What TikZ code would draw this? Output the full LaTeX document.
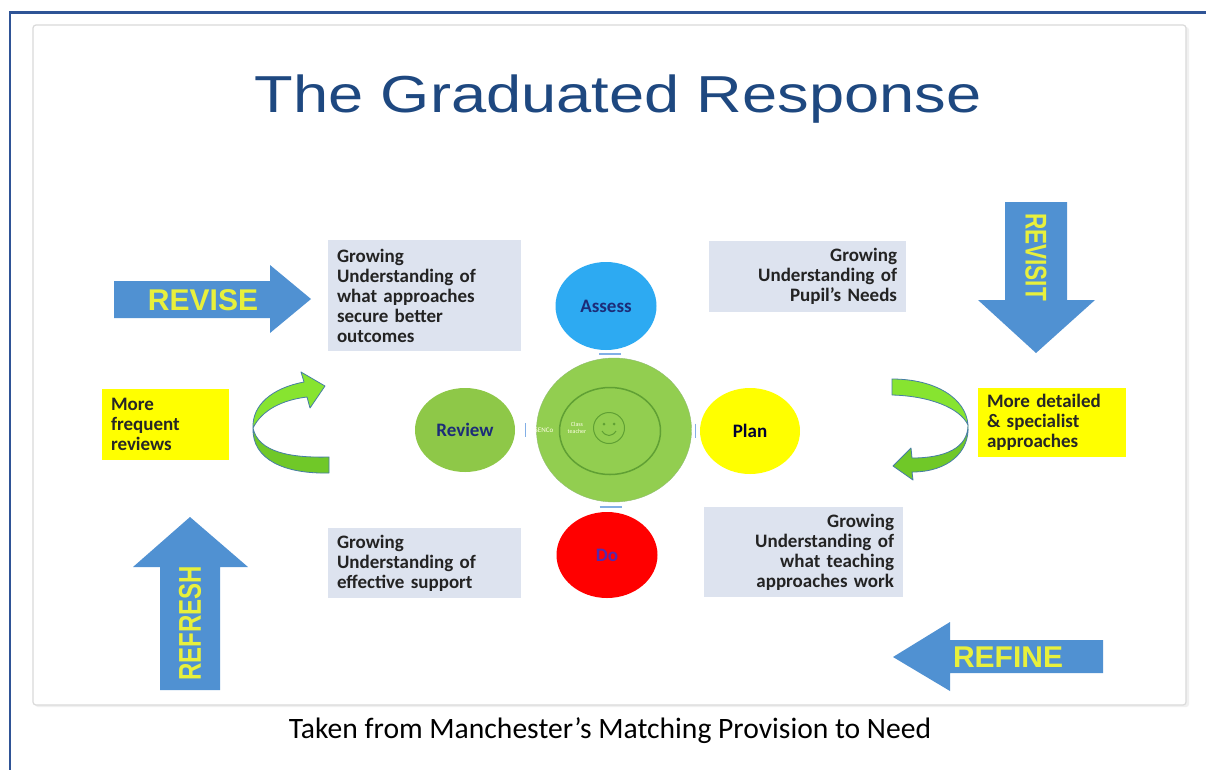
\documentclass[tikz,border=0pt]{standalone}
\usepackage{fontspec}
\setmainfont{Carlito}
\setsansfont{Liberation Sans}
\usetikzlibrary{calc,shapes.geometric}
\definecolor{frameblue}{RGB}{47,84,150}
\definecolor{panelgrey}{RGB}{218,218,218}
\definecolor{titleblue}{RGB}{30,72,128}
\definecolor{boxgrey}{RGB}{221,227,239}
\definecolor{boxtextgrey}{RGB}{35,35,35}
\definecolor{arrowblue}{RGB}{80,145,210}
\definecolor{arrowyellow}{RGB}{232,240,60}
\definecolor{labelyellow}{RGB}{255,255,0}
\definecolor{assessblue}{RGB}{45,170,242}
\definecolor{hubgreen}{RGB}{146,206,80}
\definecolor{ringgreen}{RGB}{96,160,52}
\definecolor{reviewgreen}{RGB}{142,200,72}
\definecolor{dored}{RGB}{255,0,0}
\definecolor{navy}{RGB}{28,44,120}
\definecolor{dopurple}{RGB}{85,40,170}
\definecolor{ribbonlight}{RGB}{135,228,48}
\definecolor{ribbondark}{RGB}{112,200,40}
\definecolor{ribbonedge}{RGB}{70,125,165}
\definecolor{tickblue}{RGB}{130,175,230}
\newcommand{\boxtext}{\fontsize{19}{20}\selectfont\bfseries}
\newcommand{\arrowtext}{\sffamily\bfseries\fontsize{30}{30}\selectfont}
\tikzset{%
    greybox/.style={fill=boxgrey, text=boxtextgrey, inner xsep=9pt, font=\boxtext},
    yellowbox/.style={fill=labelyellow, text=black!85, inner xsep=9pt, font=\boxtext, align=left},
    stage/.style={ellipse, inner sep=0pt, font=\fontsize{19}{19}\selectfont\bfseries},
    arrowlabel/.style={text=arrowyellow, font=\arrowtext, inner sep=0pt},
    blockarrow/.style={fill=arrowblue},
    ribbon/.style={draw=ribbonedge, line width=0.8pt, line join=round},
    tick/.style={draw=tickblue, line width=1.2pt}
}

\begin{document}
\begin{tikzpicture}[x=1pt,y=-1pt]
    \useasboundingbox (0,0) rectangle (1206,769);
    \clip (0,0) rectangle (1206,769);
    \fill[white] (0,0) rectangle (1206,769);
    % outer frame and panel
    \draw[frameblue, line width=2.2pt] (10,12.5) rectangle (1230,800);
    \fill[black!6, rounded corners=3pt] (35,27) rectangle (1189,707);
    \filldraw[fill=white, draw=panelgrey, line width=1.2pt, rounded corners=3pt] (33,25) rectangle (1186,705);

    \node[anchor=base, text=titleblue, font=\sffamily\fontsize{52}{52}\selectfont] (title) at (618,112)
        {\scalebox{1.215}[1]{The Graduated Response}};

    % block arrows
    \fill[blockarrow] (114,281) -- (270,281) -- (270,265) -- (311,299) -- (270,333) -- (270,318) -- (114,318) -- cycle;
    \fill[blockarrow] (1005,202) -- (1067,202) -- (1067,300) -- (1095,300) -- (1036,353) -- (978,300) -- (1005,300) -- cycle;
    \fill[blockarrow] (160,690) -- (160,567) -- (133,567) -- (190,517) -- (248,567) -- (220,567) -- (220,690) -- cycle;
    \fill[blockarrow] (1103,640) -- (950,640) -- (950,622) -- (893,657) -- (950,691) -- (950,673) -- (1103,673) -- cycle;
    \node[arrowlabel] (revise) at (203,300) {REVISE};
    \node[arrowlabel, rotate=-90] (revisit) at (1036,257) {\scalebox{0.75}[1]{REVISIT}};
    \node[arrowlabel, rotate=90] (refresh) at (190,623) {\scalebox{0.8}[1.05]{REFRESH}};
    \node[arrowlabel] (refine) at (1008,657) {REFINE};

    % text boxes
    \node[greybox, minimum width=193pt, minimum height=111pt, text width=175pt, align=left] (approaches) at (424.5,295.5)
        {Growing\\Understanding of\\what approaches\\secure better\\outcomes};
    \node[greybox, minimum width=197pt, minimum height=71pt, text width=179pt, align=right] (needs) at (807.5,276.5)
        {Growing\\Understanding of\\Pupil’s Needs};
    \node[greybox, minimum width=193pt, minimum height=70pt, text width=175pt, align=left] (support) at (424.5,563)
        {Growing\\Understanding of\\effective support};
    \node[greybox, minimum width=199pt, minimum height=90pt, text width=181pt, align=right] (teaching) at (803.5,552)
        {Growing\\Understanding of\\what teaching\\approaches work};
    \node[yellowbox, minimum width=127pt, minimum height=71pt, text width=109pt] (frequent) at (165.5,424.5)
        {More\\frequent\\reviews};
    \node[yellowbox, minimum width=148pt, minimum height=69pt, text width=130pt] (specialist) at (1052,422.5)
        {More detailed\\\& specialist\\approaches};

    % curved arrows
    \filldraw[ribbon, fill=ribbondark] (253,428) .. controls (258,452) and (290,458) .. (329,457)
        -- (329,473) .. controls (285,474) and (252,460) .. (253,428) -- cycle;
    \filldraw[ribbon, fill=ribbonlight] (253,428) .. controls (252,405) and (272,388) .. (304,382)
        -- (301,372) -- (325,386) -- (310,408) -- (307,397)
        .. controls (282,400) and (262,410) .. (253,428) -- cycle;
    \filldraw[ribbon, fill=ribbonlight] (892,379) .. controls (935,379) and (966,398) .. (968,425)
        .. controls (960,408) and (930,396) .. (892,395) -- cycle;
    \filldraw[ribbon, fill=ribbondark] (968,425) .. controls (968,448) and (945,458) .. (912,458)
        -- (911,448) -- (893,466) -- (913,480) -- (912,472)
        .. controls (948,472) and (970,452) .. (968,425) -- cycle;

    % cycle of stages
    \node[stage, fill=hubgreen, draw=ringgreen!70, minimum width=155pt, minimum height=144pt] (hub) at (614,430) {};
    \node[ellipse, draw=ringgreen, line width=1.5pt, minimum width=101pt, minimum height=87pt] (ring) at (610,431) {};
    \node[circle, draw=ringgreen, line width=1pt, minimum size=31pt, inner sep=0pt] (child) at (609,428) {};
    \fill[ringgreen] ($(child)+(-5,-4)$) circle (1.5pt) ($(child)+(5,-4)$) circle (1.5pt);
    \draw[ringgreen, line width=1pt] ($(child)+(-7,3)$) .. controls ($(child)+(-3,9)$) and ($(child)+(3,9)$) .. ($(child)+(7,3)$);
    \node[text=white!90!yellow, font=\fontsize{7}{7}\selectfont] (senco) at (544,430) {SENCo};
    \node[text=white!90!yellow, font=\fontsize{6}{6.5}\selectfont, align=center] (teacher) at (577,428) {Class\\teacher};

    \node[stage, fill=assessblue, text=navy, minimum width=101pt, minimum height=88pt] (assess) at (606,306) {Assess};
    \node[stage, fill=reviewgreen, text=navy, minimum width=100pt, minimum height=84pt] (review) at (465,430) {Review};
    \node[stage, fill=labelyellow, text=black!80!blue, minimum width=100pt, minimum height=86pt] (plan) at (750,431) {Plan};
    \node[stage, fill=dored, text=dopurple, minimum width=101pt, minimum height=86pt] (do) at (607,555) {Do};

    \draw[tick] ($(assess.south)!.5!(hub.north)$) +(-11,0) -- +(11,0);
    \draw[tick] ($(hub.south)!.5!(do.north)$) +(-11,0) -- +(11,0);
    \draw[tick] ($(review.east)!.5!(hub.west)$) +(0,-7) -- +(0,7);
    \draw[tick] ($(hub.east)!.5!(plan.west)$) +(0,-7) -- +(0,7);

    \node[anchor=base, font=\fontsize{29.6}{29.6}\selectfont] (caption) at (610,738)
        {Taken from Manchester’s Matching Provision to Need};
\end{tikzpicture}
\end{document}
